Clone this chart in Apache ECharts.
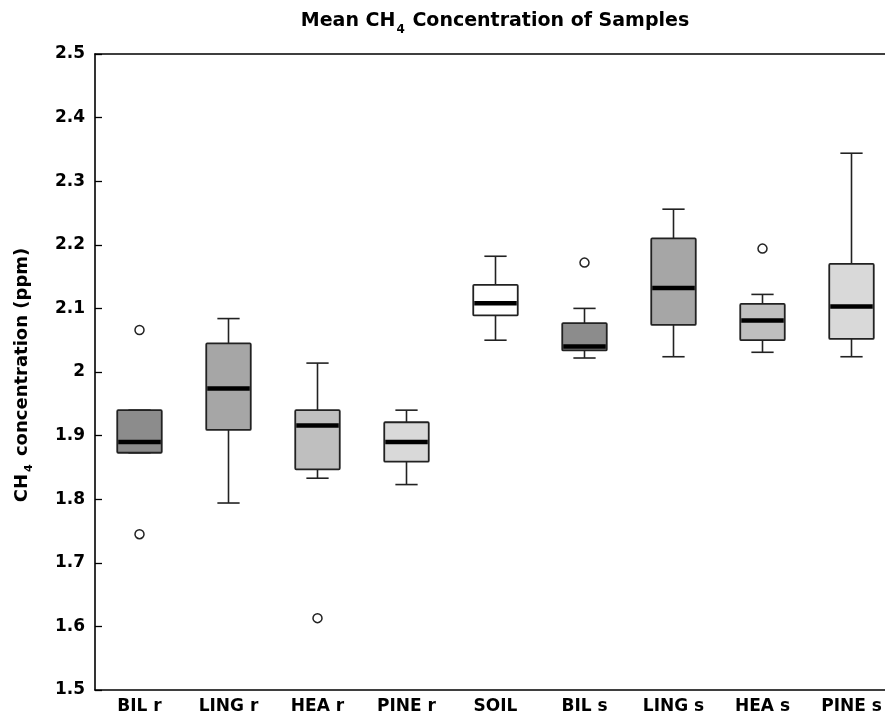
<!DOCTYPE html>
<html>
<head>
<meta charset="utf-8">
<script src="https://cdn.jsdelivr.net/npm/echarts@6/dist/echarts.min.js"></script>
<style>
html,body{margin:0;padding:0;background:#fff;}
#chart{width:885px;height:718px;}
</style>
</head>
<body>
<div id="chart"></div>
<script>
const categories = ['BIL r', 'LING r', 'HEA r', 'PINE r', 'SOIL', 'BIL s', 'LING s', 'HEA s', 'PINE s'];
const whiskerLow  = [1.873, 1.794, 1.833, 1.823, 2.050, 2.022, 2.024, 2.031, 2.024];
const q1          = [1.873, 1.909, 1.847, 1.859, 2.089, 2.034, 2.074, 2.050, 2.052];
const medians     = [1.890, 1.974, 1.916, 1.890, 2.108, 2.040, 2.132, 2.081, 2.103];
const q3          = [1.940, 2.045, 1.940, 1.921, 2.137, 2.077, 2.210, 2.107, 2.170];
const whiskerHigh = [1.940, 2.084, 2.014, 1.940, 2.182, 2.100, 2.256, 2.122, 2.344];
const outliers = [[0, 2.066], [0, 1.745], [2, 1.613], [5, 2.172], [7, 2.194]];
const yTicks = {min: 1.5, max: 2.5, interval: 0.1};

const fills = ['#8c8c8c', '#a6a6a6', '#bfbfbf', '#d9d9d9', '#ffffff', '#8c8c8c', '#a6a6a6', '#bfbfbf', '#d9d9d9'];
const FONT = 'DejaVu Sans';

const boxData = categories.map((c, i) => [i, whiskerLow[i], q1[i], medians[i], q3[i], whiskerHigh[i]]);

const chart = echarts.init(document.getElementById('chart'), null, {renderer: 'canvas'});

function renderBox(params, api) {
  const i = api.value(0);
  const bw = api.size([1, 0])[0] * 0.5;
  const cw = bw * 0.5;
  const pLow = api.coord([i, api.value(1)]);
  const pQ1 = api.coord([i, api.value(2)]);
  const pMed = api.coord([i, api.value(3)]);
  const pQ3 = api.coord([i, api.value(4)]);
  const pHigh = api.coord([i, api.value(5)]);
  const cx = pMed[0];
  const ls = {stroke: '#222', lineWidth: 1.6};
  return {
    type: 'group',
    children: [
      {type: 'line', shape: {x1: cx, y1: pQ3[1], x2: cx, y2: pHigh[1]}, style: ls},
      {type: 'line', shape: {x1: cx, y1: pQ1[1], x2: cx, y2: pLow[1]}, style: ls},
      {type: 'line', shape: {x1: cx - cw / 2, y1: pHigh[1], x2: cx + cw / 2, y2: pHigh[1]}, style: ls},
      {type: 'line', shape: {x1: cx - cw / 2, y1: pLow[1], x2: cx + cw / 2, y2: pLow[1]}, style: ls},
      {type: 'rect', shape: {x: cx - bw / 2, y: pQ3[1], width: bw, height: pQ1[1] - pQ3[1], r: 1},
        style: {fill: fills[i], stroke: '#222', lineWidth: 1.8}},
      {type: 'line', shape: {x1: cx - bw / 2 + 1, y1: pMed[1], x2: cx + bw / 2 - 1, y2: pMed[1]},
        style: {stroke: '#000', lineWidth: 4.5}}
    ]
  };
}

const option = {
  animation: false,
  backgroundColor: '#fff',
  grid: {left: 95, top: 54, right: -11, bottom: 28, containLabel: false, outerBoundsMode: 'none'},
  xAxis: [{
    type: 'category',
    data: categories,
    boundaryGap: true,
    axisLine: {show: true, lineStyle: {color: '#000', width: 1.6}},
    axisTick: {show: false},
    splitLine: {show: false},
    axisLabel: {color: '#000', fontFamily: FONT, fontWeight: 'bold', fontSize: 17, margin: 8}
  }, {
    type: 'category',
    data: categories,
    position: 'top',
    axisLine: {show: true, lineStyle: {color: '#000', width: 1.6}},
    axisTick: {show: false},
    axisLabel: {show: false}
  }],
  yAxis: [{
    type: 'value',
    min: yTicks.min, max: yTicks.max, interval: yTicks.interval,
    axisLine: {show: true, lineStyle: {color: '#000', width: 1.6}},
    axisTick: {show: true, inside: true, length: 7, lineStyle: {color: '#000', width: 1.3}},
    splitLine: {show: false},
    axisLabel: {color: '#000', fontFamily: FONT, fontWeight: 'bold', fontSize: 17, margin: 10}
  }],
  graphic: [{
    type: 'text',
    x: 495, y: 21,
    style: {
      text: '{a|Mean CH}{s|4}{a| Concentration of Samples}',
      align: 'center', verticalAlign: 'middle',
      rich: {
        a: {fontFamily: FONT, fontWeight: 'bold', fontSize: 19, fill: '#000', lineHeight: 24},
        s: {fontFamily: FONT, fontWeight: 'bold', fontSize: 12, fill: '#000', padding: [18, 1, 0, 1], lineHeight: 24}
      }
    }
  }, {
    type: 'text',
    x: 22, y: 375,
    rotation: Math.PI / 2,
    style: {
      text: '{a|CH}{s|4}{a| concentration (ppm)}',
      align: 'center', verticalAlign: 'middle',
      rich: {
        a: {fontFamily: FONT, fontWeight: 'bold', fontSize: 18, fill: '#000', lineHeight: 22},
        s: {fontFamily: FONT, fontWeight: 'bold', fontSize: 11, fill: '#000', padding: [15, 2, 0, 2], lineHeight: 22}
      }
    }
  }],
  series: [{
    type: 'custom',
    renderItem: renderBox,
    encode: {x: 0, y: [1, 2, 3, 4, 5]},
    data: boxData,
    z: 2
  }, {
    type: 'scatter',
    data: outliers,
    symbol: 'circle',
    symbolSize: 9,
    itemStyle: {color: '#fff', borderColor: '#222', borderWidth: 1.5, opacity: 1},
    z: 3
  }]
};
chart.setOption(option);
</script>
</body>
</html>
